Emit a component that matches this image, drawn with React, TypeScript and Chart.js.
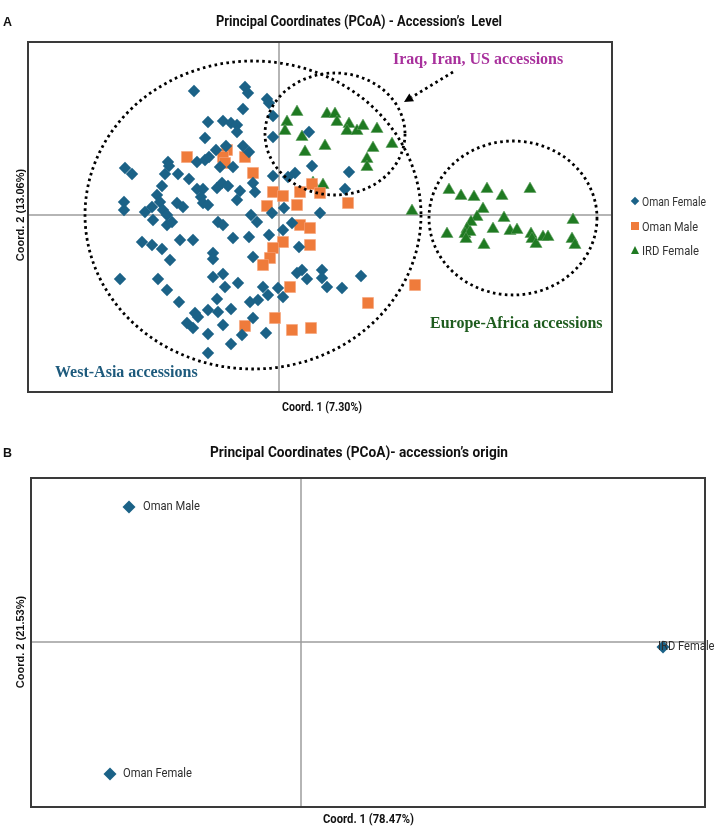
import React, { useEffect, useRef } from "react";
import { Chart, registerables } from "chart.js";

Chart.register(...registerables);

// ---------- Panel A : accession's level (Coord.1 / Coord.2 scores) ----------
const omanFemaleX = [
  -0.85, -0.34, -0.31, -0.36, -0.12, -0.10, -0.06, -0.71, -0.56, -0.48, -0.42, -0.42, -0.74, -0.53, -0.36, -0.63,
  -0.30, -1.11, -1.10, -0.82, -0.74, -0.70, -1.54, -1.47, -1.14, -1.01, -0.59, -0.46, -0.06, -0.90, -1.17, -0.82,
  -0.76, -0.62, -0.57, -0.51, -0.26, -0.24, -1.22, -1.19, -0.78, -0.76, -0.39, -0.42, -1.02, -0.96, -0.71, -1.55,
  -1.55, -1.34, -1.27, -1.16, -1.12, -0.07, -0.28, -1.26, -1.12, -1.07, -0.61, -0.56, -0.22, -1.37, -1.27, -1.17,
  -0.99, -0.86, -0.46, -0.30, -0.10, -0.66, -0.66, -1.09, -0.26, -1.59, -1.21, -1.12, -0.66, -0.56, -0.54, -0.41,
  -0.16, -0.11, -0.62, -1.00, -0.84, -0.81, -0.71, -0.61, -0.48, -0.29, -0.21, -0.92, -0.86, -0.71, -0.56, -0.26,
  -0.37, -0.48, -0.13, -0.71, -0.06, 0.30, 0.33, 0.09, 0.16, 0.70, 0.66, 0.05, 0.41, 0.04, 0.13, 0.20,
  0.18, 0.23, 0.28, 0.43, 0.43, 0.48, 0.63, 0.82, -0.01, 0.04,
];
const omanFemaleY = [
  1.24, 1.28, 1.22, 1.06, 1.16, 1.12, 0.99, 0.93, 0.94, 0.92, 0.90, 0.83, 0.77, 0.69, 0.69, 0.65,
  0.63, 0.53, 0.49, 0.53, 0.55, 0.58, 0.47, 0.41, 0.41, 0.41, 0.48, 0.48, 0.39, 0.36, 0.29, 0.26,
  0.26, 0.27, 0.32, 0.29, 0.32, 0.23, 0.20, 0.13, 0.18, 0.12, 0.24, 0.15, 0.12, 0.08, 0.10, 0.13,
  0.05, 0.03, 0.08, 0.05, 0.00, 0.02, 0.00, -0.05, -0.10, -0.07, -0.07, -0.10, -0.07, -0.27, -0.30, -0.34,
  -0.25, -0.25, -0.23, -0.22, -0.20, -0.38, -0.44, -0.45, -0.42, -0.64, -0.64, -0.75, -0.62, -0.59, -0.72, -0.68,
  -0.72, -0.80, -0.84, -0.87, -0.98, -1.02, -0.95, -0.97, -0.94, -0.87, -0.85, -1.08, -1.13, -1.19, -1.10, -1.03,
  -1.20, -1.29, -1.18, -1.38, 0.78, 0.83, 0.49, 0.38, 0.42, 0.43, 0.26, 0.07, 0.02, -0.15, -0.08, -0.32,
  -0.58, -0.55, -0.64, -0.55, -0.63, -0.72, -0.73, -0.61, -0.73, -0.82,
];

const omanMaleX = [
  -0.92, -0.52, -0.56, -0.54, -0.34, -0.26, -0.06, -0.12, 0.04, 0.21, 0.33, 0.41, 0.18, 0.69,
  0.21, 0.31, 0.04, 0.31, -0.06, -0.09, -0.16, 0.11, 0.89, 1.36, -0.04, 0.13, 0.32, -0.34,
];
const omanMaleY = [
  0.58, 0.65, 0.58, 0.52, 0.58, 0.42, 0.23, 0.09, 0.19, 0.23, 0.31, 0.22, 0.10, 0.12,
  -0.10, -0.13, -0.27, -0.30, -0.33, -0.43, -0.50, -0.72, -0.88, -0.70, -1.03, -1.15, -1.13, -1.11,
];

const irdFemaleX = [
  0.18, 0.08, 0.06, 0.48, 0.56, 0.58, 0.70, 0.68, 0.78, 0.84, 0.98, 0.23, 0.46, 0.26, 1.13, 0.94,
  0.88, 0.88, 0.34, 0.44, 1.33, 1.70, 1.82, 1.95, 2.08, 2.23, 2.51, 2.04, 1.98, 1.92, 2.25, 2.94,
  1.68, 1.88, 1.86, 1.91, 1.87, 2.14, 2.31, 2.38, 2.05, 2.52, 2.53, 2.57, 2.64, 2.69, 2.93, 2.96,
];
const irdFemaleY = [
  1.03, 0.93, 0.84, 1.01, 1.01, 0.93, 0.91, 0.84, 0.84, 0.89, 0.86, 0.78, 0.69, 0.63, 0.71, 0.67,
  0.56, 0.48, 0.32, 0.30, 0.04, 0.25, 0.19, 0.18, 0.26, 0.19, 0.26, 0.06, -0.02, -0.07, -0.03, -0.05,
  -0.19, -0.14, -0.19, -0.17, -0.24, -0.14, -0.16, -0.15, -0.30, -0.19, -0.24, -0.29, -0.22, -0.22, -0.24, -0.30,
];

// group outlines (centre x, centre y, radius x, radius y)
const groupNames = ["West-Asia", "Iraq, Iran, US", "Europe-Africa"];
const groupCx = [-0.26, 0.56, 2.34];
const groupCy = [0.0, 0.81, -0.03];
const groupRx = [1.68, 0.70, 0.84];
const groupRy = [1.54, 0.61, 0.77];

const groupLabels = ["West-Asia accessions", "Iraq, Iran, US accessions", "Europe-Africa accessions"];
const groupLabelX = [-2.24, 1.14, 1.51];
const groupLabelY = [-1.58, 1.55, -1.09];
const groupLabelColors = ["#1d5a7c", "#a8309c", "#1e5c1e"];

const arrowFrom = [1.74, 1.43];
const arrowTo = [1.25, 1.13];

const seriesNames = ["Oman Female", "Oman Male", "IRD Female"];
const seriesColors = ["#1b6287", "#ef7b3b", "#1f7a22"];

// ---------- Panel B : accession's origin ----------
const originNames = ["Oman Male", "Oman Female", "IRD Female"];
const originX = [-1.72, -1.91, 3.62];
const originY = [1.35, -1.32, -0.05];

const FONT_COND = 'Roboto, "Liberation Sans", sans-serif';
const FONT_ARIAL = '"Liberation Sans", Arial, sans-serif';

let measureCtx: CanvasRenderingContext2D | null = null;
function textWidth(text: string, font: string) {
  if (!measureCtx) measureCtx = document.createElement("canvas").getContext("2d");
  if (!measureCtx) return text.length * 7;
  measureCtx.font = font;
  return measureCtx.measureText(text).width;
}

function pts(xs: number[], ys: number[]) {
  return xs.map((x, i) => ({ x, y: ys[i] }));
}

function drawAxesCross(chart: any) {
  const { ctx, chartArea: a, scales } = chart;
  const x0 = scales.x.getPixelForValue(0);
  const y0 = scales.y.getPixelForValue(0);
  ctx.save();
  ctx.strokeStyle = "#9d9d9d";
  ctx.lineWidth = 1.5;
  ctx.beginPath();
  ctx.moveTo(x0, a.top);
  ctx.lineTo(x0, a.bottom);
  ctx.moveTo(a.left, y0);
  ctx.lineTo(a.right, y0);
  ctx.stroke();
  ctx.restore();
}

function drawFrame(chart: any) {
  const { ctx, chartArea: a } = chart;
  ctx.save();
  ctx.strokeStyle = "#3a3a3a";
  ctx.lineWidth = 2;
  ctx.strokeRect(a.left, a.top, a.right - a.left, a.bottom - a.top);
  ctx.restore();
}

const panelAPlugin = {
  id: "panelA",
  beforeDatasetsDraw(chart: any) {
    drawAxesCross(chart);
  },
  afterDatasetsDraw(chart: any) {
    const { ctx, scales } = chart;
    const sx = scales.x, sy = scales.y;
    ctx.save();
    ctx.strokeStyle = "#000";
    ctx.lineWidth = 2.8;
    ctx.setLineDash([2.6, 3.4]);
    for (let i = 0; i < groupNames.length; i++) {
      const cx = sx.getPixelForValue(groupCx[i]);
      const cy = sy.getPixelForValue(groupCy[i]);
      const rx = Math.abs(sx.getPixelForValue(groupCx[i] + groupRx[i]) - cx);
      const ry = Math.abs(sy.getPixelForValue(groupCy[i] + groupRy[i]) - cy);
      ctx.beginPath();
      ctx.ellipse(cx, cy, rx, ry, 0, 0, Math.PI * 2);
      ctx.stroke();
    }
    // arrow
    const ax1 = sx.getPixelForValue(arrowFrom[0]);
    const ay1 = sy.getPixelForValue(arrowFrom[1]);
    const ax2 = sx.getPixelForValue(arrowTo[0]);
    const ay2 = sy.getPixelForValue(arrowTo[1]);
    const ang = Math.atan2(ay2 - ay1, ax2 - ax1);
    const head = 9;
    const bx = ax2 - Math.cos(ang) * head;
    const by = ay2 - Math.sin(ang) * head;
    ctx.beginPath();
    ctx.moveTo(ax1, ay1);
    ctx.lineTo(bx, by);
    ctx.stroke();
    ctx.setLineDash([]);
    ctx.fillStyle = "#000";
    ctx.beginPath();
    ctx.moveTo(ax2, ay2);
    ctx.lineTo(bx + Math.cos(ang + Math.PI / 2) * 4.5, by + Math.sin(ang + Math.PI / 2) * 4.5);
    ctx.lineTo(bx + Math.cos(ang - Math.PI / 2) * 4.5, by + Math.sin(ang - Math.PI / 2) * 4.5);
    ctx.closePath();
    ctx.fill();
    // group labels
    ctx.font = 'bold 16px "Liberation Serif", "Times New Roman", serif';
    ctx.textBaseline = "middle";
    ctx.textAlign = "left";
    for (let i = 0; i < groupLabels.length; i++) {
      ctx.fillStyle = groupLabelColors[i];
      ctx.fillText(groupLabels[i], sx.getPixelForValue(groupLabelX[i]), sy.getPixelForValue(groupLabelY[i]));
    }
    ctx.restore();
  },
  afterDraw(chart: any) {
    drawFrame(chart);
  },
};

const panelBPlugin = {
  id: "panelB",
  beforeDatasetsDraw(chart: any) {
    drawAxesCross(chart);
  },
  afterDatasetsDraw(chart: any) {
    const { ctx, scales } = chart;
    const labelDx = [14, 13, -5];
    const font = `13px ${FONT_COND}`;
    const squeeze = 69 / textWidth("Oman Female", font);
    ctx.save();
    ctx.font = font;
    ctx.fillStyle = "#2e2e2e";
    ctx.textBaseline = "middle";
    ctx.textAlign = "left";
    for (let i = 0; i < originNames.length; i++) {
      const px = scales.x.getPixelForValue(originX[i]);
      const py = scales.y.getPixelForValue(originY[i]);
      ctx.save();
      ctx.translate(px + labelDx[i], py);
      ctx.scale(squeeze, 1);
      ctx.fillText(originNames[i], 0, 0);
      ctx.restore();
    }
    ctx.restore();
  },
  afterDraw(chart: any) {
    drawFrame(chart);
  },
};

function ChartA() {
  const ref = useRef<HTMLCanvasElement | null>(null);
  useEffect(() => {
    if (!ref.current) return;
    const chart = new Chart(ref.current, {
      type: "scatter",
      data: {
        datasets: [
          {
            label: seriesNames[0],
            data: pts(omanFemaleX, omanFemaleY),
            pointStyle: "rectRot",
            pointRadius: 6.2,
            backgroundColor: seriesColors[0],
            borderColor: seriesColors[0],
            borderWidth: 0,
          },
          {
            label: seriesNames[1],
            data: pts(omanMaleX, omanMaleY),
            pointStyle: "rect",
            pointRadius: 7.8,
            backgroundColor: seriesColors[1],
            borderColor: "#f6a57a",
            borderWidth: 0.6,
          },
          {
            label: seriesNames[2],
            data: pts(irdFemaleX, irdFemaleY),
            pointStyle: "triangle",
            pointRadius: 7,
            backgroundColor: seriesColors[2],
            borderColor: "#5f9f60",
            borderWidth: 0.6,
          },
        ],
      },
      options: {
        responsive: false,
        animation: false,
        devicePixelRatio: 1,
        layout: { padding: { left: 28, top: 42, right: 106, bottom: 38 } },
        scales: {
          x: { type: "linear", min: -2.51, max: 3.33, display: false },
          y: { type: "linear", min: -1.77, max: 1.73, display: false },
        },
        plugins: { legend: { display: false }, tooltip: { enabled: false } },
        events: [],
      },
      plugins: [panelAPlugin],
    });
    return () => chart.destroy();
  }, []);
  return <canvas ref={ref} width={718} height={430} style={{ position: "absolute", left: 0, top: 0 }} />;
}

function ChartB() {
  const ref = useRef<HTMLCanvasElement | null>(null);
  useEffect(() => {
    if (!ref.current) return;
    const chart = new Chart(ref.current, {
      type: "scatter",
      data: {
        datasets: [
          {
            label: "Origin",
            data: pts(originX, originY),
            pointStyle: "rectRot",
            pointRadius: 6.5,
            backgroundColor: seriesColors[0],
            borderColor: seriesColors[0],
            borderWidth: 0,
          },
        ],
      },
      options: {
        responsive: false,
        animation: false,
        devicePixelRatio: 1,
        layout: { padding: { left: 31, top: 48, right: 13, bottom: 19 } },
        scales: {
          x: { type: "linear", min: -2.70, max: 4.04, display: false },
          y: { type: "linear", min: -1.65, max: 1.64, display: false },
        },
        plugins: { legend: { display: false }, tooltip: { enabled: false } },
        events: [],
      },
      plugins: [panelBPlugin],
    });
    return () => chart.destroy();
  }, []);
  return <canvas ref={ref} width={718} height={396} style={{ position: "absolute", left: 0, top: 430 }} />;
}

// text squeezed horizontally to a measured width (condensed look)
function FitText(props: {
  text: string; x: number; y: number; width: number; size: number;
  weight?: string; family?: string; color?: string; align?: string;
}) {
  const { text, x, y, width, size } = props;
  const weight = props.weight || "normal";
  const family = props.family || FONT_COND;
  const w = textWidth(text, `${weight} ${size}px ${family}`);
  const s = width / w;
  const left = props.align === "left" ? x : x - width / 2;
  return (
    <div
      style={{
        position: "absolute",
        left,
        top: y,
        transform: `translateY(-50%) scaleX(${s})`,
        transformOrigin: "left center",
        whiteSpace: "pre",
        lineHeight: 1,
        fontFamily: family,
        fontWeight: weight as any,
        fontSize: size,
        color: props.color || "#111",
      }}
    >
      {text}
    </div>
  );
}

function RotText(props: { text: string; x: number; y: number }) {
  return (
    <div
      style={{
        position: "absolute",
        left: props.x,
        top: props.y,
        transform: "translate(-50%, -50%) rotate(-90deg)",
        whiteSpace: "pre",
        lineHeight: 1,
        fontFamily: FONT_ARIAL,
        fontWeight: "bold",
        fontSize: 11,
        color: "#111",
      }}
    >
      {props.text}
    </div>
  );
}

function LegendMarker({ kind, color }: { kind: string; color: string }) {
  const box = { position: "absolute" as const, left: 630, width: 10, height: 10, display: "flex", alignItems: "center", justifyContent: "center" };
  if (kind === "diamond") {
    return <div style={box}><span style={{ display: "block", width: 6, height: 6, background: color, transform: "rotate(45deg)" }} /></div>;
  }
  if (kind === "square") {
    return <div style={box}><span style={{ display: "block", width: 8, height: 8, background: color }} /></div>;
  }
  return (
    <div style={box}>
      <span
        style={{
          display: "block",
          width: 0,
          height: 0,
          borderLeft: "4.5px solid transparent",
          borderRight: "4.5px solid transparent",
          borderBottom: `8px solid ${color}`,
        }}
      />
    </div>
  );
}

export default function App() {
  const legendKinds = ["diamond", "square", "triangle"];
  const legendRows = [201, 226, 250];
  const legendWidths = [64, 56, 57];
  return (
    <div style={{ position: "absolute", left: 0, top: 0, width: 718, height: 826, background: "#fff", overflow: "hidden" }}>
      <ChartA />
      <ChartB />
      <FitText text="A" x={3} y={21} width={9} size={13} weight="bold" family={FONT_ARIAL} align="left" />
      <FitText text={"Principal Coordinates (PCoA) - Accession\u2019s  Level"} x={359} y={21} width={286} size={15} weight="bold" />
      <FitText text="Coord. 1 (7.30%)" x={322} y={406} width={80} size={13} weight="bold" />
      <RotText text="Coord. 2 (13.06%)" x={20} y={215} />
      {seriesNames.map((n, i) => (
        <div key={n} style={{ position: "absolute", left: 0, top: legendRows[i] - 5 }}>
          <LegendMarker kind={legendKinds[i]} color={seriesColors[i]} />
        </div>
      ))}
      {seriesNames.map((n, i) => (
        <FitText key={n + "t"} text={n} x={642} y={legendRows[i]} width={legendWidths[i]} size={13} color="#333" align="left" />
      ))}
      <FitText text="B" x={3} y={452} width={9} size={13} weight="bold" family={FONT_ARIAL} align="left" />
      <FitText text={"Principal Coordinates (PCoA)- accession\u2019s origin"} x={359} y={452} width={298} size={15} weight="bold" />
      <FitText text="Coord. 1 (78.47%)" x={368} y={818} width={91} size={13} weight="bold" />
      <RotText text="Coord. 2 (21.53%)" x={20} y={642} />
    </div>
  );
}
